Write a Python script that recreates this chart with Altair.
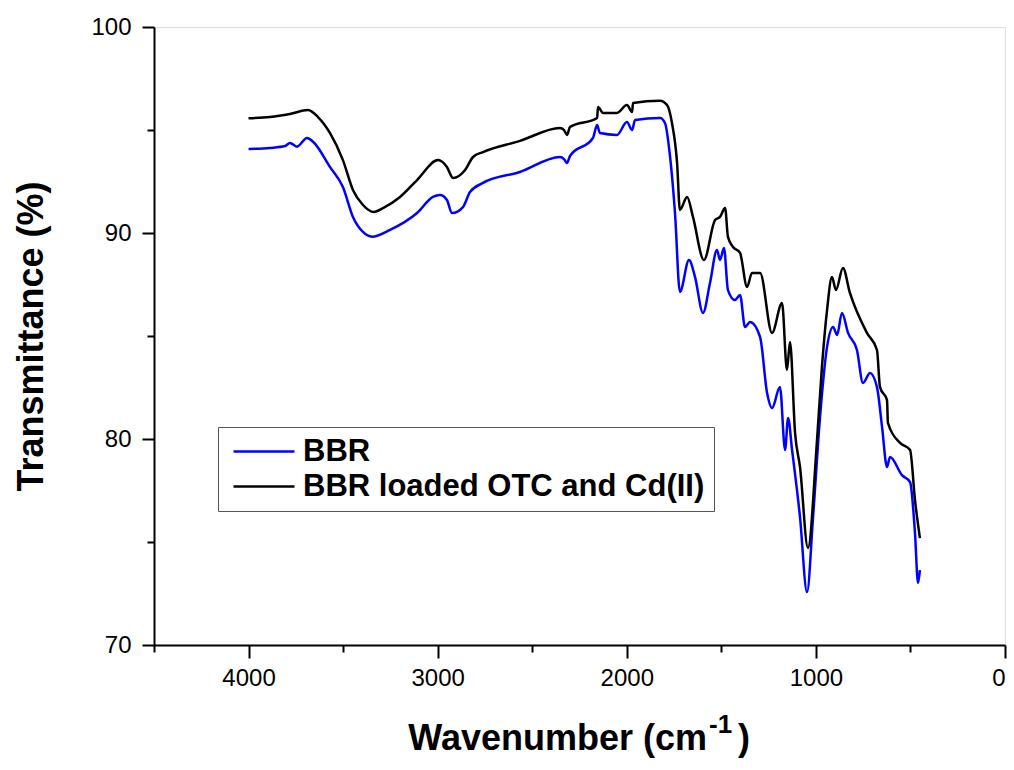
import altair as alt
import pandas as pd

# Wavenumber (cm-1) and transmittance (%)
bbr_w = [4000, 3887, 3807, 3781, 3744, 3691, 3659, 3569, 3501, 3448, 3395, 3347, 3252, 3109,
         3025, 2988, 2951, 2924, 2866, 2829, 2760, 2565, 2353, 2332, 2316, 2300, 2179, 2157,
         2142, 2052, 1999, 1972, 1956, 1824, 1798, 1771, 1745, 1719, 1671, 1639, 1597, 1560,
         1523, 1507, 1486, 1465, 1428, 1401, 1375, 1348, 1295, 1258, 1232, 1190, 1163, 1147,
         1126, 1084, 1047, 1015, 978, 941, 909, 888, 862, 830, 783, 751, 714, 677, 650, 624,
         608, 545, 502, 476, 460, 450]
bbr_t = [94.08, 94.13, 94.22, 94.37, 94.19, 94.61, 94.43, 93.20, 92.23, 90.78, 90.05, 89.82,
         90.15, 90.97, 91.75, 91.84, 91.60, 90.97, 91.26, 91.99, 92.43, 92.96, 93.69, 93.59,
         93.40, 93.74, 94.61, 95.24, 94.85, 94.76, 95.39, 95.00, 95.49, 95.58, 95.34, 93.69,
         90.97, 87.14, 88.69, 87.86, 86.12, 87.57, 89.17, 88.69, 89.27, 87.23, 86.75, 86.99,
         85.44, 85.68, 84.95, 82.23, 81.50, 82.52, 79.47, 81.02, 79.47, 76.21, 72.57, 76.21,
         81.07, 84.47, 85.44, 85.05, 86.12, 85.15, 84.32, 82.72, 83.20, 82.52, 80.58, 78.64,
         79.13, 78.25, 77.91, 75.44, 73.01, 73.64]

otc_w = [4000, 3887, 3781, 3686, 3633, 3569, 3501, 3448, 3395, 3337, 3289, 3199, 3109, 2998,
         2951, 2919, 2855, 2813, 2760, 2565, 2353, 2332, 2316, 2300, 2157, 2152, 2126, 2052,
         1999, 1972, 1967, 1824, 1787, 1761, 1734, 1719, 1681, 1650, 1592, 1533, 1507, 1480,
         1465, 1438, 1401, 1364, 1338, 1295, 1232, 1179, 1153, 1137, 1110, 1084, 1042, 994,
         968, 941, 915, 894, 857, 820, 730, 677, 661, 624, 619, 555, 502, 476, 450]
otc_t = [95.57, 95.63, 95.78, 95.97, 95.63, 94.85, 93.54, 92.09, 91.36, 91.02, 91.21, 91.75,
         92.57, 93.54, 93.20, 92.67, 93.06, 93.69, 93.93, 94.47, 95.10, 95.00, 94.76, 95.15,
         95.58, 96.12, 95.83, 95.83, 96.21, 95.87, 96.31, 96.42, 96.21, 95.34, 93.40, 91.12,
         91.75, 90.78, 88.69, 90.63, 90.78, 91.21, 89.81, 89.32, 89.03, 87.38, 88.06, 88.06,
         85.15, 86.60, 83.35, 84.71, 80.29, 78.64, 74.71, 79.95, 83.50, 86.26, 87.86, 87.23,
         88.30, 87.09, 85.15, 84.32, 82.52, 81.89, 80.78, 79.81, 79.47, 77.04, 75.19]

series_names = ["BBR", "BBR loaded OTC and Cd(II)"]
series_colors = ["#0000FF", "#000000"]
x_ticks = [4500, 4000, 3500, 3000, 2500, 2000, 1500, 1000, 500, 0]
y_ticks = [70, 75, 80, 85, 90, 95, 100]

rows = []
for i, (w, t) in enumerate(zip(bbr_w, bbr_t)):
    rows.append({"w": w, "t": t, "s": series_names[0], "o": i})
for i, (w, t) in enumerate(zip(otc_w, otc_t)):
    rows.append({"w": w, "t": t, "s": series_names[1], "o": i})
df = pd.DataFrame(rows)

FONT = "Liberation Sans"
W, H = 851, 618

lines = alt.Chart(df).mark_line(strokeWidth=2.5, clip=True, interpolate="monotone").encode(
    x=alt.X("w:Q",
            scale=alt.Scale(domain=[0, 4500], reverse=True, nice=False, zero=False),
            axis=alt.Axis(values=x_ticks, title=None,
                          labelExpr="datum.value % 1000 === 0 ? datum.label : ''",
                          format="d", labelFont=FONT, labelFontSize=24, labelColor="#000",
                          labelPadding=8, domainColor="#000", domainWidth=2,
                          tickColor="#000", tickWidth=2,
                          tickSize={"condition": {"test": "datum.value % 1000 === 0", "value": 13}, "value": 7},
                          grid=False)),
    y=alt.Y("t:Q",
            scale=alt.Scale(domain=[70, 100], nice=False, zero=False),
            axis=alt.Axis(values=y_ticks, title="Transmittance (%)",
                          labelExpr="datum.value % 10 === 0 ? datum.label : ''",
                          labelFont=FONT, labelFontSize=24, labelColor="#000",
                          labelPadding=11, domainColor="#000", domainWidth=2,
                          tickColor="#000", tickWidth=2,
                          tickSize={"condition": {"test": "datum.value % 10 === 0", "value": 12}, "value": 7},
                          titleFont=FONT, titleFontSize=36, titleFontWeight="bold",
                          titleColor="#000", titleX=-112, titleY=H / 2,
                          titleBaseline="alphabetic", grid=False)),
    color=alt.Color("s:N",
                    scale=alt.Scale(domain=series_names, range=series_colors),
                    legend=alt.Legend(orient="none", legendX=64, legendY=400, title=None,
                                      symbolType="M-0.9,0H5.2", symbolSize=400,
                                      symbolStrokeWidth=2.5, labelFont=FONT,
                                      labelFontSize=31, labelFontWeight="bold",
                                      labelColor="#000", labelOffset=45,
                                      strokeColor="#555", fillColor="#fff",
                                      padding=9, rowPadding=3, labelLimit=600)),
    order="o:Q",
)

title_df = pd.DataFrame({"a": [0]})
t_main = alt.Chart(title_df).mark_text(
    text="Wavenumber (cm", font=FONT, fontSize=36, fontWeight="bold",
    align="right", baseline="alphabetic", color="#000"
).encode(x=alt.value(553), y=alt.value(H + 105))
t_sup = alt.Chart(title_df).mark_text(
    text="-1", font=FONT, fontSize=26, fontWeight="bold",
    align="left", baseline="alphabetic", color="#000"
).encode(x=alt.value(555), y=alt.value(H + 88))
t_close = alt.Chart(title_df).mark_text(
    text=")", font=FONT, fontSize=36, fontWeight="bold",
    align="left", baseline="alphabetic", color="#000"
).encode(x=alt.value(584), y=alt.value(H + 105))

chart = alt.layer(lines, t_main, t_sup, t_close).properties(
    width=W, height=H,
    autosize=alt.AutoSizeParams(type="none"),
    padding={"left": 154, "top": 27, "right": 9, "bottom": 125},
).configure_view(stroke="#000", strokeWidth=2).configure(background="white")

chart.save("out.html", embed_options={"renderer": "svg", "actions": False})
